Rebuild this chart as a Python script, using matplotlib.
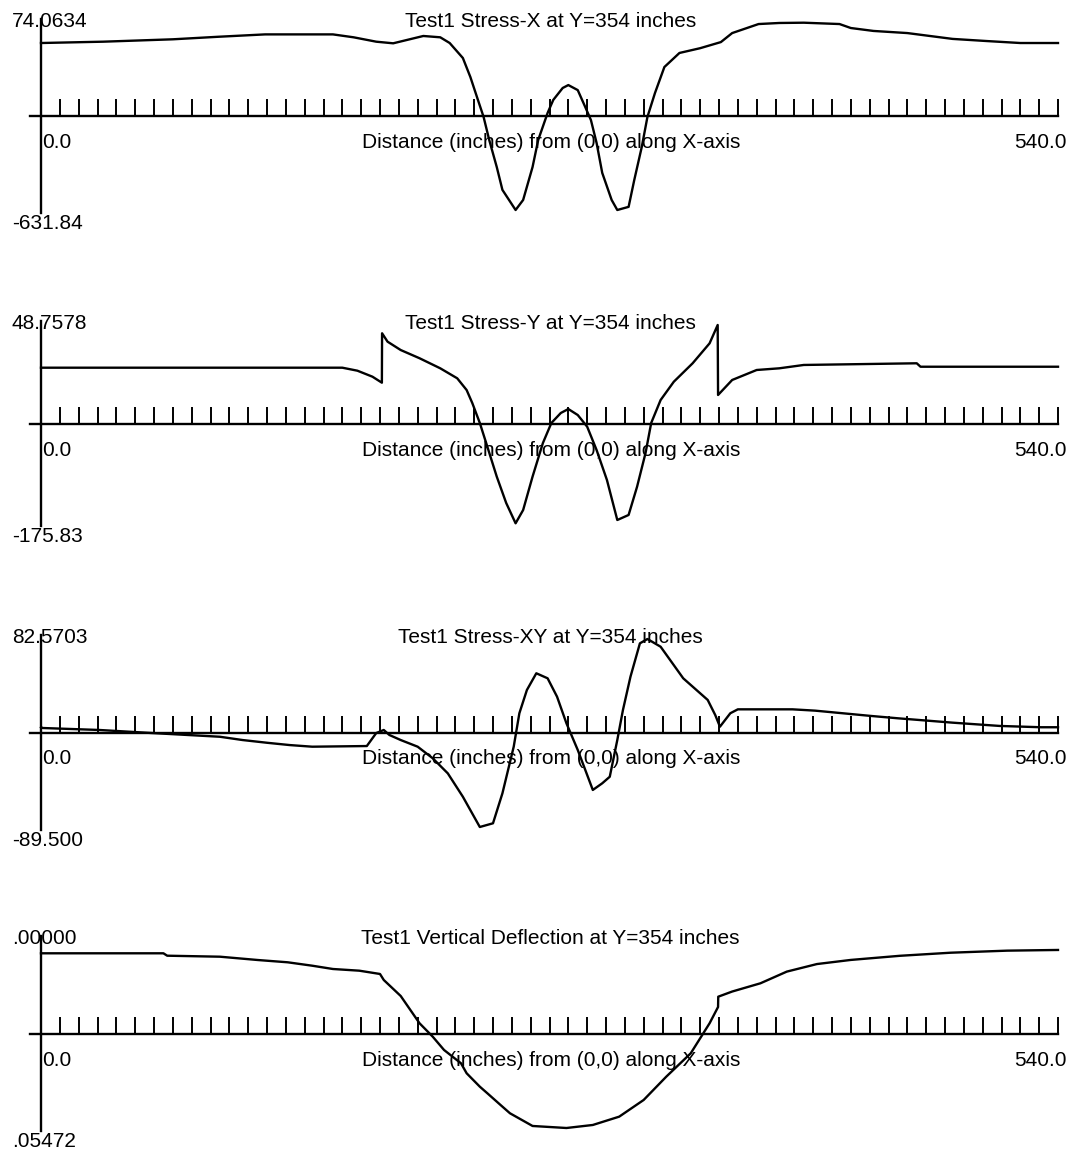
import numpy as np
import matplotlib
matplotlib.use('Agg')
import matplotlib.pyplot as plt

plt.rcParams['font.family'] = ['Liberation Sans', 'DejaVu Sans']

## data (x in inches)

# Stress-X
sx_x = [0, 33, 70, 94, 119, 155, 166, 178, 187, 203, 212, 217, 224, 228, 232, 235, 238,
        242, 245, 252, 256, 261, 264, 269, 272, 277, 280, 285, 289, 292, 295, 298, 303,
        306, 312, 315, 319, 322, 326, 331, 339, 350, 361, 367, 381, 392, 405, 424, 430,
        442, 460, 472, 484, 502, 520, 540]
sx_y = [-2.5, 2.5, 11.5, 21, 30, 30, 19, 2.5, -3.6, 24, 19, -2.5, -59, -131, -217, -281, -368,
        -470, -556, -631.84, -594, -470, -368, -266, -217, -172, -161, -180, -244, -293, -379, -492, -594,
        -631.84, -620, -519, -394, -281, -191, -93, -40, -22, 1, 35, 69, 73, 74.0634, 69, 54,
        43, 35, 24, 13, 5, -2.5, -2.5]

# Stress-Y
sy_x = [0, 160, 168, 176, 181, 181.1, 184, 191, 201, 212, 221, 226, 229, 233, 237, 242, 247,
        252, 256, 261, 266.5, 271, 276, 280, 285, 290, 295, 300.5, 306, 312, 316.5, 321, 324,
        329, 336, 346, 355, 359.3, 359.5, 367, 380, 392, 405, 465, 467, 540]
sy_y = [0.4, 0.4, -3, -9.8, -16.6, 39.4, 29.9, 20.4, 11.1, -0.3, -11.6, -24.9, -39.6, -62.2, -89.1, -123, -152.8,
        -175.83, -160.8, -123, -84.9, -62.2, -50.9, -46.4, -53.2, -66.4, -92.8, -126.8, -172.1, -166.4, -134.4, -96.2, -62.2,
        -36.2, -15.5, 5.4, 28, 48.7578, -30.5, -13.5, -2.2, -0.3, 3.5, 5.4, 1.5, 1.5]

# Stress-XY
sxy_x = [0, 1, 31, 59, 78, 95, 107, 120, 132, 144, 173, 178, 182, 185, 191, 200, 208, 216,
         224, 233, 240, 245, 251, 254, 258, 263, 269, 274, 279, 285, 293, 298, 302, 306, 309,
         313, 318, 322, 329, 341, 354, 358, 360.5, 366, 370, 399, 411, 430, 441, 455, 484,
         509, 531, 540]
sxy_y = [1.8, 1.1, -0.7, -3.5, -5.3, -6.9, -9.9, -12.4, -14.5, -16, -15.4, -3.5, -0.7, -5.3, -9.9, -16, -26.6, -40.4,
         -61.8, -89.5, -86.1, -58.7, -16, 14.6, 35.9, 51.2, 46.6, 29.8, 5.4, -19, -55.6, -49.5, -43.5, -9.9, 17.6,
         48.1, 78.6, 82.5703, 75.5, 46.6, 26.8, 13, 2.3, 14.6, 18.2, 18.2, 17, 13.9, 12.1, 10, 6,
         3, 1.8, 1.8]

# Vertical deflection
dv_x = [0, 65, 67, 95, 115, 131, 144, 155, 169, 180, 182, 191, 201, 208, 214, 223, 226, 233,
        237, 244, 249, 261, 279, 293, 307, 320, 332, 345, 355, 359.5, 359.6, 367, 382, 396,
        412, 430, 456, 483, 513, 540]
dv_y = [-0.00387, -0.00387, -0.00457, -0.00486, -0.00582, -0.00649, -0.00748, -0.00844, -0.00893, -0.00989,
        -0.01164, -0.0163, -0.02424, -0.02814, -0.03201, -0.03588, -0.03879, -0.04269,
        -0.04461, -0.04802, -0.05043, -0.05413, -0.05472, -0.05384, -0.05142, -0.04656, -0.03978, -0.03297,
        -0.02424, -0.0195, -0.0165, -0.0150, -0.0126, -0.0092,
        -0.0070, -0.0058, -0.0046, -0.0037, -0.0031, -0.0029]

series = [(sx_x, sx_y), (sy_x, sy_y), (sxy_x, sxy_y), (dv_x, dv_y)]
titles = ['Test1 Stress-X at Y=354 inches', 'Test1 Stress-Y at Y=354 inches',
          'Test1 Stress-XY at Y=354 inches', 'Test1 Vertical Deflection at Y=354 inches']
top_labels = ['74.0634', '48.7578', '82.5703', '.00000']
bot_labels = ['-631.84', '-175.83', '-89.500', '.05472']
y_ranges = [(-631.84, 74.0634), (-175.83, 48.7578), (-89.5, 82.5703), (-0.05472, 0.0)]

W, H = 1075, 1152
fig = plt.figure(figsize=(W / 100, H / 100), dpi=100)

# panel boxes in pixels (top, bottom)
boxes = [(22.7, 210), (325, 523.3), (639, 827), (940, 1128)]
left_px, right_px = 41, 1058
fs = 15

for i, (xs, ys) in enumerate(series):
    top, bot = boxes[i]
    lo, hi = y_ranges[i]
    hpx = bot - top
    ax = fig.add_axes([left_px / W, 1 - bot / H, (right_px - left_px) / W, hpx / H])
    ax.patch.set_visible(False)
    ax.plot(xs, ys, color='black', lw=1.7, clip_on=False)
    ax.set_xlim(0, 540)
    ax.set_ylim(lo, hi)
    mid = (lo + hi) / 2
    per_px = (hi - lo) / hpx

    ax.spines['top'].set_visible(False)
    ax.spines['right'].set_visible(False)
    ax.spines['bottom'].set_position(('data', mid))
    ax.spines['bottom'].set_bounds(-11 * 540 / (right_px - left_px), 540)
    ax.spines['left'].set_bounds(lo - 3 * per_px, hi + 4 * per_px)
    for s in ['bottom', 'left']:
        ax.spines[s].set_linewidth(1.7)
    ax.set_xticks(np.arange(0, 541, 10))
    ax.tick_params(axis='x', direction='in', length=12.2, width=1.4, labelbottom=False)
    ax.set_yticks([])

    ax.annotate(top_labels[i], xy=(0, 1), xycoords='axes fraction', xytext=(-29, -4),
                textcoords='offset pixels', ha='left', va='baseline', fontsize=fs)
    ax.annotate(bot_labels[i], xy=(0, 0), xycoords='axes fraction', xytext=(-29, -19),
                textcoords='offset pixels', ha='left', va='baseline', fontsize=fs)
    ax.annotate(titles[i], xy=(0.5, 1), xycoords='axes fraction', xytext=(1, -4),
                textcoords='offset pixels', ha='center', va='baseline', fontsize=fs)
    ax.annotate('Distance (inches) from (0,0) along X-axis', xy=(0.5, 0.5), xycoords='axes fraction',
                xytext=(1.5, -31.5), textcoords='offset pixels', ha='center', va='baseline', fontsize=fs)
    ax.annotate('0.0', xy=(0, 0.5), xycoords='axes fraction', xytext=(1, -31.5),
                textcoords='offset pixels', ha='left', va='baseline', fontsize=fs)
    ax.annotate('540.0', xy=(1, 0.5), xycoords='axes fraction', xytext=(9, -31.5),
                textcoords='offset pixels', ha='right', va='baseline', fontsize=fs)

fig.savefig('out.png', dpi=100)
